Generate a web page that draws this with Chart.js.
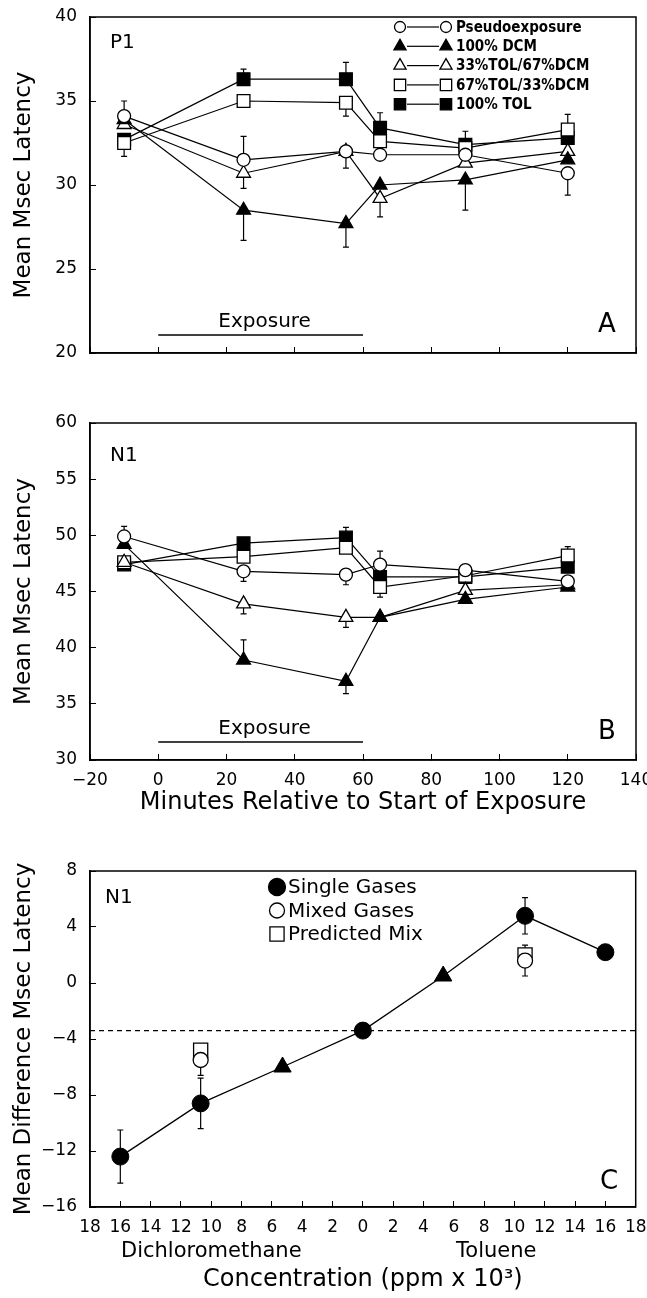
<!DOCTYPE html>
<html>
<head>
<meta charset="utf-8">
<script src="https://cdn.jsdelivr.net/npm/chart.js@4.4.0/dist/chart.umd.min.js"></script>
<style>
  body { margin: 0; background: #fff; width: 647px; height: 1298px; position: relative; overflow: hidden; }
  .panel { position: absolute; left: 0; width: 647px; }
  canvas { display: block; }
</style>
</head>
<body>
<div class="panel" style="top:0"><canvas id="chartA" width="647" height="370"></canvas></div>
<div class="panel" style="top:380px"><canvas id="chartB" width="647" height="439"></canvas></div>
<div class="panel" style="top:840px"><canvas id="chartC" width="647" height="456"></canvas></div>
<script>
// ---- datos ----
const minutes = [-10, 25, 55, 65, 90, 120];
const seriesLabels = ["Pseudoexposure", "100% DCM", "33%TOL/67%DCM", "67%TOL/33%DCM", "100% TOL"];

// Panel A (P1)
const p1Pseudo = [34.1, 31.5, 32.0, 31.8, 31.8, 30.7];
const p1Dcm    = [33.9, 28.5, 27.7, 30.0, 30.3, 31.5];
const p1Tol33  = [33.6, 30.7, 32.0, 29.2, 31.3, 32.0];
const p1Tol67  = [32.5, 35.0, 34.9, 32.6, 32.2, 33.3];
const p1Tol100 = [32.7, 36.3, 36.3, 33.4, 32.4, 32.8];
// error (+ hacia arriba, - hacia abajo)
const p1PseudoErr = [0.9, 1.4, 0, 0, 0, -1.3];
const p1DcmErr    = [0, -1.8, -1.4, 0, -1.8, 0];
const p1Tol33Err  = [0, -0.9, -1.0, -1.1, 0, 0];
const p1Tol67Err  = [0, 0, -0.8, 0, 0, 0.9];
const p1Tol100Err = [-1.0, 0.6, 1.0, 0.9, 0.8, 0];

// Panel B (N1)
const n1Pseudo = [49.9, 46.8, 46.5, 47.4, 46.9, 45.9];
const n1Dcm    = [49.2, 38.9, 37.0, 42.7, 44.3, 45.4];
const n1Tol33  = [47.6, 43.9, 42.7, 42.7, 45.1, 45.6];
const n1Tol67  = [47.6, 48.1, 48.9, 45.4, 46.4, 48.2];
const n1Tol100 = [47.4, 49.3, 49.8, 46.3, 46.3, 47.2];
const n1PseudoErr = [0.9, -0.9, -0.9, 1.2, 0, 0];
const n1DcmErr    = [0, 1.8, -1.1, 0, 0, 0];
const n1Tol33Err  = [0, -0.9, -0.9, 0, 0, 0];
const n1Tol67Err  = [0, -0.5, -0.4, -0.9, 0, 0.8];
const n1Tol100Err = [0, 0, 0.9, 0, 1.0, 0];

// Panel C (N1, diferencias)
const concSingle = [-16, -10.7, -5.3, 0, 5.3, 10.7, 16];
const diffSingle = [-12.4, -8.6, -6.0, -3.4, 0.5, 4.8, 2.2];
const errSingle  = [1.9, 1.8, 0, 0, 0, 1.3, 0];
const concMix = [-10.7, 10.7];
const diffMixed = [-5.5, 1.6];
const errMixed  = [1.1, 1.1];
const diffPredicted = [-4.8, 2.0];
const errPredicted  = [0.4, 0.4];
const legendC = ["Single Gases", "Mixed Gases", "Predicted Mix"];

Chart.defaults.font.family = "'DejaVu Sans', sans-serif";
Chart.defaults.color = "#000";

const FONT = "'DejaVu Sans', sans-serif";
const fmt = v => (v < 0 ? "\u2212" + Math.abs(v) : String(v));

// estilos de cada serie
const looks = [
  { pointStyle: "circle", radius: 6.5, fill: "#fff" },
  { pointStyle: "triangle", radius: 8, fill: "#000" },
  { pointStyle: "triangle", radius: 8, fill: "#fff" },
  { pointStyle: "rect", radius: 9, fill: "#fff" },
  { pointStyle: "rect", radius: 9, fill: "#000" }
];

function marker(ctx, style, r, fill, x, y) {
  ctx.beginPath();
  if (style === "circle") {
    ctx.arc(x, y, r, 0, Math.PI * 2);
  } else if (style === "triangle") {
    let a = 0;
    ctx.moveTo(x + Math.sin(a) * r, y - Math.cos(a) * r);
    a += Math.PI * 2 / 3;
    ctx.lineTo(x + Math.sin(a) * r, y - Math.cos(a) * r);
    a += Math.PI * 2 / 3;
    ctx.lineTo(x + Math.sin(a) * r, y - Math.cos(a) * r);
    ctx.closePath();
  } else {
    const s = r * Math.SQRT1_2;
    ctx.rect(x - s, y - s, 2 * s, 2 * s);
  }
  ctx.fillStyle = fill;
  ctx.fill();
  ctx.strokeStyle = "#000";
  ctx.lineWidth = 1.3;
  ctx.stroke();
}

function timeSets(values, errs) {
  return values.map((vals, k) => ({
    label: seriesLabels[k],
    data: minutes.map((t, i) => ({ x: t, y: vals[i] })),
    errors: errs[k],
    errorMode: "signed",
    showLine: true,
    borderColor: "#000",
    borderWidth: 1.2,
    pointStyle: looks[k].pointStyle,
    pointRadius: looks[k].radius,
    pointHoverRadius: looks[k].radius,
    pointBackgroundColor: looks[k].fill,
    pointBorderColor: "#000",
    pointBorderWidth: 1.3
  }));
}

// barras de error
const errorBars = {
  id: "errorBars",
  beforeDatasetsDraw(chart) {
    const ctx = chart.ctx, ys = chart.scales.y;
    ctx.save();
    ctx.strokeStyle = "#000";
    ctx.lineWidth = 1.2;
    chart.data.datasets.forEach((ds, di) => {
      if (!ds.errors) return;
      const meta = chart.getDatasetMeta(di);
      meta.data.forEach((pt, i) => {
        const e = ds.errors[i];
        if (!e) return;
        const v = ds.data[i].y;
        const ends = ds.errorMode === "both" ? [v + e, v - e] : [v + e];
        ends.forEach(end => {
          const yp = ys.getPixelForValue(end);
          ctx.beginPath();
          ctx.moveTo(pt.x, pt.y);
          ctx.lineTo(pt.x, yp);
          ctx.moveTo(pt.x - 3, yp);
          ctx.lineTo(pt.x + 3, yp);
          ctx.stroke();
        });
      });
    });
    ctx.restore();
  }
};

function deco(draw) {
  return {
    id: "deco",
    afterDraw(chart) {
      const ctx = chart.ctx;
      const a = chart.chartArea;
      ctx.save();
      ctx.strokeStyle = "#000";
      ctx.lineWidth = 1.5;
      ctx.strokeRect(a.left, a.top, a.right - a.left, a.bottom - a.top);
      ctx.fillStyle = "#000";
      draw(ctx, a, chart.scales.x, chart.scales.y, chart);
      ctx.restore();
    }
  };
}

function yAxis(min, max, step, title) {
  return {
    min: min, max: max,
    ticks: { stepSize: step, padding: 19, font: { size: 17 }, color: "#000", callback: v => fmt(v) },
    grid: { drawOnChartArea: false, drawTicks: true, tickLength: -6, color: "#000", lineWidth: 1 },
    border: { display: true, color: "#000", width: 1.5 },
    title: { display: true, text: title, font: { size: 23 }, color: "#000", padding: { top: 10, bottom: 0 } },
    afterFit: s => { s.width = 90; s.paddingTop = 0; s.paddingBottom = 0; }
  };
}

function xAxis(min, max, step, showLabels, title, height, labelFn) {
  return {
    type: "linear", min: min, max: max,
    ticks: { display: showLabels, stepSize: step, padding: 16, font: { size: 17 }, color: "#000",
             maxRotation: 0, autoSkip: false, callback: labelFn },
    grid: { drawOnChartArea: false, drawTicks: true, tickLength: -6, color: "#000", lineWidth: 1 },
    border: { display: true, color: "#000", width: 1.5 },
    title: title ? { display: true, text: title, font: { size: 24 }, color: "#000", padding: { top: 0, bottom: 2 } }
                 : { display: false },
    afterFit: s => { s.height = height; s.paddingLeft = 0; s.paddingRight = 0; }
  };
}

function baseOptions(padTop, xScale, yScale) {
  return {
    responsive: false,
    animation: false,
    layout: { padding: { top: padTop, right: 11, left: 0, bottom: 0 } },
    plugins: { legend: { display: false }, tooltip: { enabled: false } },
    scales: { x: xScale, y: yScale }
  };
}

function timeDeco(tag, tagDy, letter, withLegend) {
  return deco((ctx, a, xs, ys) => {
    ctx.textBaseline = "middle";
    ctx.textAlign = "left";
    ctx.font = "20px " + FONT;
    ctx.fillText(tag, a.left + 20, a.top + tagDy);
    ctx.textAlign = "center";
    ctx.font = "26px " + FONT;
    ctx.fillText(letter, 607, a.bottom - 28);
    // periodo de exposicion
    const x0 = xs.getPixelForValue(0), x1 = xs.getPixelForValue(60);
    ctx.font = "20px " + FONT;
    ctx.fillText("Exposure", (x0 + x1) / 2 + 4, a.bottom - 31);
    ctx.lineWidth = 1.5;
    ctx.beginPath();
    ctx.moveTo(x0, a.bottom - 18);
    ctx.lineTo(x1, a.bottom - 18);
    ctx.stroke();
    if (!withLegend) return;
    ctx.textAlign = "left";
    ctx.font = "bold 15px 'DejaVu Sans Condensed', 'DejaVu Sans', sans-serif";
    seriesLabels.forEach((lab, k) => {
      const y = a.top + 10 + k * 19.3;
      ctx.strokeStyle = "#000";
      ctx.lineWidth = 1.2;
      ctx.beginPath();
      ctx.moveTo(407, y);
      ctx.lineTo(439, y);
      ctx.stroke();
      marker(ctx, looks[k].pointStyle, looks[k].radius - 1, looks[k].fill, 400, y);
      marker(ctx, looks[k].pointStyle, looks[k].radius - 1, looks[k].fill, 446, y);
      ctx.fillStyle = "#000";
      ctx.fillText(lab, 456, y + 1);
    });
  });
}

// ---- Panel A ----
new Chart(document.getElementById("chartA"), {
  type: "scatter",
  data: { datasets: timeSets([p1Pseudo, p1Dcm, p1Tol33, p1Tol67, p1Tol100],
                             [p1PseudoErr, p1DcmErr, p1Tol33Err, p1Tol67Err, p1Tol100Err]) },
  options: baseOptions(17, xAxis(-20, 140, 20, false, "", 17, fmt), yAxis(20, 40, 5, "Mean Msec Latency")),
  plugins: [errorBars, timeDeco("P1", 26, "A", true)]
});

// ---- Panel B ----
new Chart(document.getElementById("chartB"), {
  type: "scatter",
  data: { datasets: timeSets([n1Pseudo, n1Dcm, n1Tol33, n1Tol67, n1Tol100],
                             [n1PseudoErr, n1DcmErr, n1Tol33Err, n1Tol67Err, n1Tol100Err]) },
  options: baseOptions(43, xAxis(-20, 140, 20, true, "Minutes Relative to Start of Exposure", 59, fmt),
                       yAxis(30, 60, 5, "Mean Msec Latency")),
  plugins: [errorBars, timeDeco("N1", 33, "B", false)]
});

// ---- Panel C ----
const cLooks = [
  { pointStyle: "circle", radius: 8.5, fill: "#000" },
  { pointStyle: "circle", radius: 7.5, fill: "#fff" },
  { pointStyle: "rect", radius: 10, fill: "#fff" }
];
const singleStyles = ["circle", "circle", "triangle", "circle", "triangle", "circle", "circle"];

new Chart(document.getElementById("chartC"), {
  type: "scatter",
  data: {
    datasets: [
      {
        label: legendC[0],
        data: concSingle.map((c, i) => ({ x: c, y: diffSingle[i] })),
        errors: errSingle, errorMode: "both",
        showLine: true, borderColor: "#000", borderWidth: 1.3,
        pointStyle: singleStyles,
        pointRadius: singleStyles.map(s => (s === "triangle" ? 10 : 8.5)),
        pointBackgroundColor: "#000", pointBorderColor: "#000", pointBorderWidth: 1
      },
      {
        label: legendC[1],
        data: concMix.map((c, i) => ({ x: c, y: diffMixed[i] })),
        errors: errMixed, errorMode: "both",
        pointStyle: "circle", pointRadius: 7.5,
        pointBackgroundColor: "#fff", pointBorderColor: "#000", pointBorderWidth: 1.3
      },
      {
        label: legendC[2],
        data: concMix.map((c, i) => ({ x: c, y: diffPredicted[i] })),
        errors: errPredicted, errorMode: "both",
        pointStyle: "rect", pointRadius: 10,
        pointBackgroundColor: "#fff", pointBorderColor: "#000", pointBorderWidth: 1.3
      },
      {
        label: "baseline",
        data: [{ x: -18, y: diffSingle[3] }, { x: 18, y: diffSingle[3] }],
        showLine: true, borderColor: "#000", borderWidth: 1.2, borderDash: [5, 4],
        pointRadius: 0, pointHoverRadius: 0
      }
    ]
  },
  options: baseOptions(31, xAxis(-18, 18, 2, true, "Concentration (ppm x 10\u00b3)", 89, v => String(Math.abs(v))),
                       yAxis(-16, 8, 4, "Mean Difference Msec Latency")),
  plugins: [errorBars, deco((ctx, a, xs) => {
    ctx.textBaseline = "middle";
    ctx.textAlign = "left";
    ctx.font = "20px " + FONT;
    ctx.fillText("N1", a.left + 15, a.top + 27);
    ctx.textAlign = "center";
    ctx.font = "26px " + FONT;
    ctx.fillText("C", 609, a.bottom - 25);
    ctx.font = "21px " + FONT;
    ctx.fillText("Dichloromethane", xs.getPixelForValue(-10), a.bottom + 45);
    ctx.fillText("Toluene", xs.getPixelForValue(8.8), a.bottom + 45);
    ctx.textAlign = "left";
    ctx.font = "20px " + FONT;
    legendC.forEach((lab, k) => {
      const y = a.top + 16 + k * 23.5;
      marker(ctx, cLooks[k].pointStyle, cLooks[k].radius, cLooks[k].fill, 277, y);
      ctx.fillStyle = "#000";
      ctx.fillText(lab, 288, y + 1);
    });
  })]
});
</script>
</body>
</html>
